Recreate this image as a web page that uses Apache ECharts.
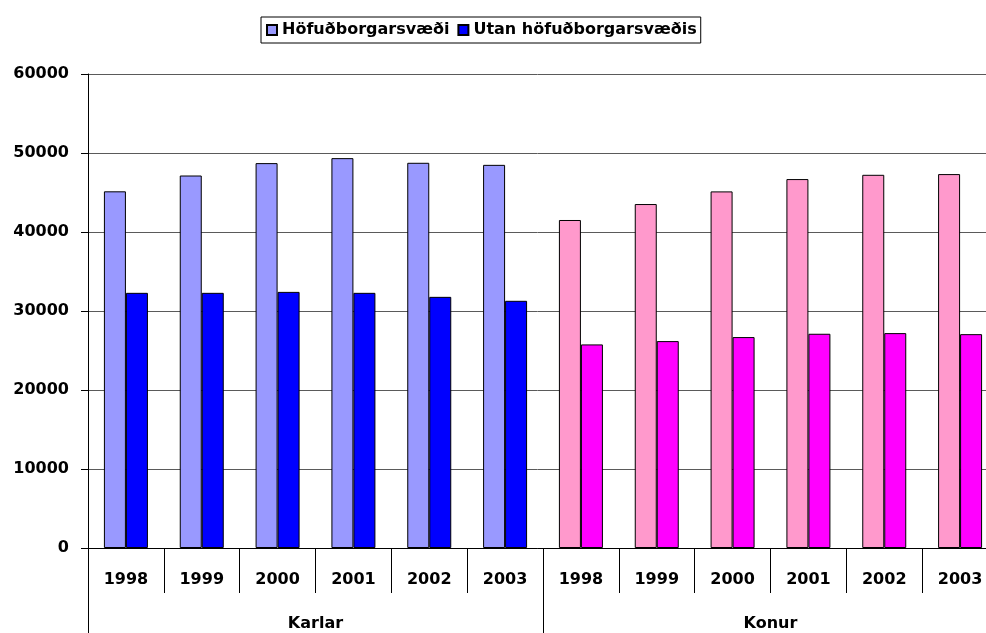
<!DOCTYPE html>
<html>
<head>
<meta charset="utf-8">
<script src="https://cdn.jsdelivr.net/npm/echarts@6/dist/echarts.min.js"></script>
<style>
  html, body { margin: 0; padding: 0; background: #fff; }
  #chart { width: 986px; height: 633px; }
</style>
</head>
<body>
<div id="chart"></div>
<script>
const years = ['1998', '1999', '2000', '2001', '2002', '2003']
const groups = ['Karlar', 'Konur']
const seriesNames = ['Höfuðborgarsvæði', 'Utan höfuðborgarsvæðis']

// values per group, years 1998-2003
const karlarCapital = [45150, 47150, 48720, 49350, 48760, 48500]
const karlarOther = [32300, 32300, 32420, 32300, 31790, 31290]
const konurCapital = [41520, 43540, 45140, 46700, 47240, 47330]
const konurOther = [25770, 26190, 26700, 27120, 27200, 27070]

const colors = {
  karlar: ['#9999FF', '#0000FF'],
  konur: ['#FF99CC', '#FF00FF'],
}

const font = {
  fontFamily: 'DejaVu Sans',
  fontWeight: 'bold',
  color: '#000',
}

function build(men, women, idx) {
  return men.map(v => v).concat(women.map(v => ({
    value: v,
    itemStyle: { color: colors.konur[idx] },
  })))
}

const chart = echarts.init(document.getElementById('chart'), null, { renderer: 'canvas' })

chart.setOption({
  backgroundColor: '#fff',
  animation: false,
  legend: {
    left: 261,
    top: 17,
    padding: [5, 4, 5, 5],
    itemWidth: 10,
    itemHeight: 10,
    itemGap: 8,
    borderColor: '#000',
    borderWidth: 1,
    icon: 'rect',
    textStyle: { ...font, fontSize: 16 },
    data: seriesNames,
  },
  // plot area runs past the right edge of the picture, as in the original
  grid: {
    left: 88, width: 910, top: 74, bottom: 85,
    containLabel: false,
    outerBoundsMode: 'none',
  },
  xAxis: [
    {
      type: 'category',
      data: years.concat(years),
      axisLine: { lineStyle: { color: '#000' } },
      axisTick: { show: true, interval: 0, length: 45, lineStyle: { color: '#000' } },
      axisLabel: { ...font, fontSize: 16, interval: 0, margin: 24 },
    },
    {
      type: 'category',
      data: groups,
      position: 'bottom',
      axisLine: { show: false },
      axisTick: { show: true, interval: 0, length: 90, lineStyle: { color: '#000' } },
      axisLabel: { ...font, fontSize: 16, interval: 0, margin: 68 },
    },
  ],
  yAxis: {
    type: 'value',
    min: 0,
    max: 60000,
    interval: 10000,
    axisLine: { show: true, lineStyle: { color: '#000' } },
    axisTick: { show: true, length: 7, lineStyle: { color: '#000' } },
    axisLabel: { ...font, fontSize: 16, margin: 19, formatter: v => String(v) },
    splitLine: { lineStyle: { color: '#5a5a5a' } },
  },
  series: [
    {
      name: seriesNames[0],
      type: 'bar',
      barWidth: 22,
      barGap: '0%',
      itemStyle: { color: colors.karlar[0], borderColor: '#000', borderWidth: 1 },
      data: build(karlarCapital, konurCapital, 0),
    },
    {
      name: seriesNames[1],
      type: 'bar',
      barWidth: 22,
      barGap: '0%',
      itemStyle: { color: colors.karlar[1], borderColor: '#000', borderWidth: 1 },
      data: build(karlarOther, konurOther, 1),
    },
  ],
})
</script>
</body>
</html>
